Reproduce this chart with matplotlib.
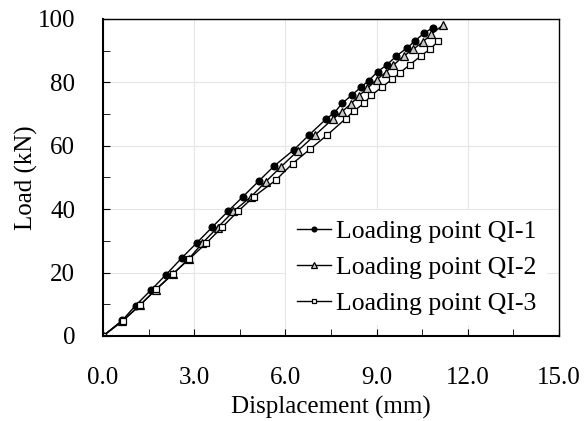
import numpy as np
import matplotlib.pyplot as plt
from matplotlib.ticker import MultipleLocator

plt.rcParams['font.family'] = ['Liberation Serif', 'DejaVu Serif']
plt.rcParams['mathtext.fontset'] = 'stix'

# displacement (mm) and load (kN)
disp_1 = [0.0, 0.64, 1.07, 1.58, 2.07, 2.6, 3.08, 3.6, 4.11, 4.6, 5.12, 5.63, 6.29, 6.78,
          7.35, 7.61, 7.87, 8.18, 8.48, 8.74, 9.04, 9.34, 9.65, 10.0, 10.26, 10.56, 10.87]
load_1 = [0.0, 5.0, 9.6, 14.5, 19.3, 24.7, 29.3, 34.4, 39.3, 43.9, 48.8, 53.6, 58.8, 63.4,
          68.5, 70.4, 73.4, 75.9, 78.4, 80.5, 83.4, 85.5, 88.3, 90.8, 93.0, 95.5, 97.3]

disp_2 = [0.0, 0.64, 1.22, 1.73, 2.31, 2.83, 3.27, 3.77, 4.29, 4.87, 5.36, 5.86, 6.41, 6.98,
          7.57, 7.87, 8.16, 8.41, 8.7, 9.0, 9.3, 9.55, 9.91, 10.2, 10.52, 10.79, 11.18]
load_2 = [0.0, 4.8, 9.8, 14.5, 19.6, 24.4, 29.3, 34.2, 39.3, 43.9, 48.7, 53.4, 58.4, 63.4,
          68.5, 70.8, 73.2, 75.7, 78.1, 80.8, 83.1, 85.4, 88.4, 90.4, 92.7, 95.1, 98.0]

disp_3 = [0.0, 0.66, 1.23, 1.74, 2.31, 2.84, 3.4, 3.92, 4.44, 4.96, 5.68, 6.24, 6.81, 7.38,
          7.98, 8.26, 8.59, 8.83, 9.18, 9.52, 9.78, 10.09, 10.47, 10.75, 11.04]
load_3 = [0.0, 4.8, 9.8, 14.7, 19.7, 24.3, 29.3, 34.3, 39.3, 43.9, 49.1, 54.4, 58.9, 63.4,
          68.5, 71.0, 73.4, 75.9, 78.5, 81.0, 83.1, 85.5, 88.4, 90.4, 93.0]

labels = ['Loading point QI-1', 'Loading point QI-2', 'Loading point QI-3']

fig = plt.figure(figsize=(5.87, 4.21), dpi=100)
ax = fig.add_axes([0.1755, 0.202, 0.7765, 0.753])

ax.plot(disp_1, load_1, color='black', lw=1, marker='o', ms=4.8,
        mfc='black', mec='black', label=labels[0])
ax.plot(disp_2, load_2, color='black', lw=1, marker='^', ms=5.8,
        mfc='#c8c8c8', mec='black', mew=0.9, label=labels[1])
ax.plot(disp_3, load_3, color='black', lw=1, marker='s', ms=4.8,
        mfc='white', mec='black', mew=0.9, label=labels[2])

ax.set_xlim(0, 15)
ax.set_ylim(0, 100)
ax.xaxis.set_major_locator(MultipleLocator(3))
ax.xaxis.set_minor_locator(MultipleLocator(1.5))
ax.yaxis.set_major_locator(MultipleLocator(20))
ax.yaxis.set_minor_locator(MultipleLocator(10))
ax.set_xticklabels([f'{v:.1f}' for v in ax.get_xticks()])
ax.tick_params(which='both', direction='in', labelsize=18, top=False, right=False)
ax.tick_params(which='major', length=5)
ax.tick_params(which='minor', length=5)
ax.tick_params(axis='x', pad=22)
ax.tick_params(axis='y', pad=20)
ax.grid(True, which='major', color='#e6e6e6', lw=0.8)
ax.set_axisbelow(True)
for side in ['left', 'bottom']:
    ax.spines[side].set_linewidth(1.5)
for side in ['top', 'right']:
    ax.spines[side].set_linewidth(1.0)

ax.set_xlabel('Displacement (mm)', fontsize=18, labelpad=5)
ax.set_ylabel('Load (kN)', fontsize=18, labelpad=0)

leg = ax.legend(loc='lower right', bbox_to_anchor=(0.99, 0.01), frameon=True,
                fontsize=18.5, handlelength=1.33, handletextpad=0.2,
                labelspacing=0.5, markerscale=0.7, borderaxespad=0.3)
leg.get_frame().set_edgecolor('none')
leg.get_frame().set_facecolor('white')
leg.get_frame().set_alpha(1)

fig.savefig('out.png', dpi=100)
